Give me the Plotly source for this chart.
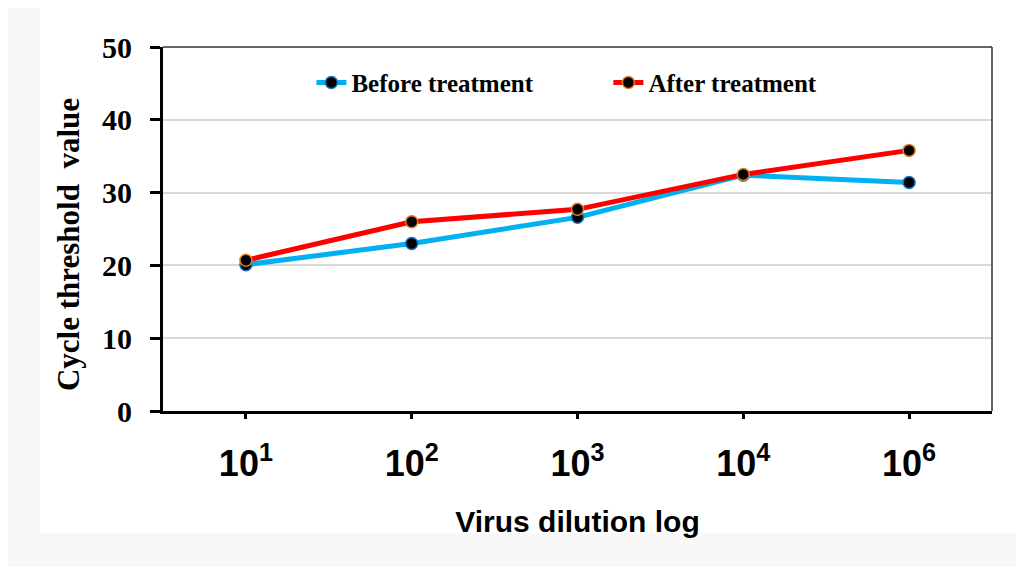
import plotly.graph_objects as go

categories = ["10<sup>1</sup>", "10<sup>2</sup>", "10<sup>3</sup>", "10<sup>4</sup>", "10<sup>6</sup>"]
before_treatment = [20.1, 23.0, 26.6, 32.4, 31.4]
after_treatment = [20.7, 26.0, 27.7, 32.5, 35.8]
y_ticks = [0, 10, 20, 30, 40, 50]

fig = go.Figure()
fig.add_trace(go.Scatter(
    x=categories, y=before_treatment, mode="lines+markers", name="Before treatment",
    line=dict(color="#00B0F0", width=5),
    marker=dict(color="black", size=12, line=dict(color="#1a73c8", width=1.5)),
))
fig.add_trace(go.Scatter(
    x=categories, y=after_treatment, mode="lines+markers", name="After treatment",
    line=dict(color="#FF0000", width=5),
    marker=dict(color="black", size=12, line=dict(color="#E08020", width=1.5)),
))

# outer light gray frame, white page area
fig.add_shape(type="rect", xref="paper", yref="paper", x0=-0.1484, x1=1.1, y0=-0.335, y1=1.2,
              fillcolor="white", line=dict(width=0), layer="below")
# thin top and right border
fig.add_shape(type="line", xref="paper", yref="paper", x0=0, x1=1, y0=1, y1=1,
              line=dict(color="#333333", width=1.5))
fig.add_shape(type="line", xref="paper", yref="paper", x0=1, x1=1, y0=0, y1=1,
              line=dict(color="#333333", width=1.5))

fig.update_layout(
    width=1016, height=559,
    margin=dict(l=155, r=32, t=39, b=156),
    paper_bgcolor="#f8f8f8",
    plot_bgcolor="white",
    showlegend=True,
    legend=dict(
        orientation="h", x=0.179, y=0.965, xanchor="left", yanchor="top",
        bgcolor="rgba(0,0,0,0)",
        font=dict(family="Liberation Serif, Times New Roman, serif", size=25, color="black", weight="bold"),
        entrywidth=252, entrywidthmode="pixels",
    ),
    xaxis=dict(
        type="category", range=[-0.5, 4.5],
        showline=True, linecolor="black", linewidth=3,
        ticks="outside", ticklen=5, tickwidth=3, tickcolor="black",
        showgrid=False,
        tickfont=dict(family="Liberation Sans, Arial, sans-serif", size=36, color="black", weight="bold"),
        ticklabelstandoff=14,
        title=dict(text="Virus dilution log", standoff=28,
                   font=dict(family="Liberation Sans, Arial, sans-serif", size=30, color="black", weight="bold")),
    ),
    yaxis=dict(
        range=[0, 50], tickvals=y_ticks,
        showline=True, linecolor="black", linewidth=3,
        ticks="outside", ticklen=10, tickwidth=3, tickcolor="black",
        showgrid=True, gridcolor="#d9d9d9", gridwidth=1.5,
        zeroline=False,
        tickfont=dict(family="Liberation Serif, Times New Roman, serif", size=30, color="black", weight="bold"),
        ticklabelstandoff=12,
        title=dict(text="Cycle threshold  value<span style='color:rgba(0,0,0,0)'>__</span>", standoff=14,
                   font=dict(family="Liberation Serif, Times New Roman, serif", size=31, color="black", weight="bold")),
    ),
)

fig.write_html("out.html")
